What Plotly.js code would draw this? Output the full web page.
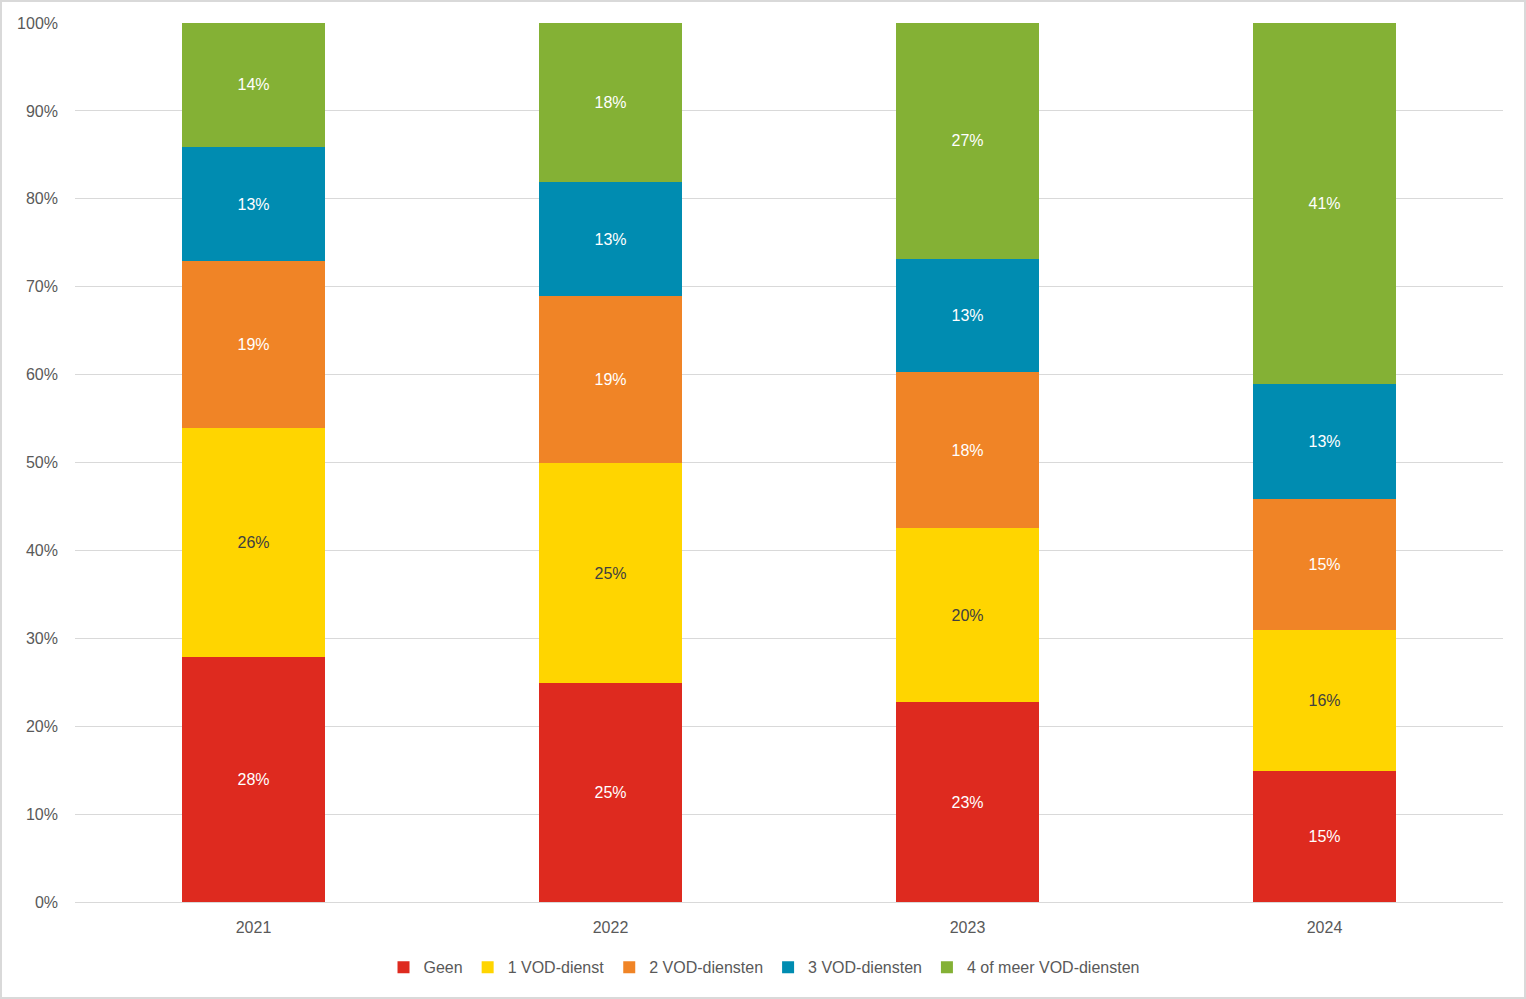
<!DOCTYPE html>
<html>
<head>
<meta charset="utf-8">
<script src="https://cdn.plot.ly/plotly-3.0.1.min.js"></script>
<style>
html,body{margin:0;padding:0;background:#fff;}
#chart{position:absolute;left:0;top:0;width:1526px;height:999px;}
#frame{position:absolute;left:0;top:0;width:1526px;height:999px;box-sizing:border-box;border:2px solid #d9d9d9;pointer-events:none;}
</style>
</head>
<body>
<div id="chart"></div>
<div id="frame"></div>
<script>
const years = ['2021', '2022', '2023', '2024'];
const seriesNames = ['Geen', '1 VOD-dienst', '2 VOD-diensten', '3 VOD-diensten', '4 of meer VOD-diensten'];
const geen = [27.9, 24.9, 22.7, 14.9];
const vod1 = [26.0, 25.0, 19.8, 16.0];
const vod2 = [19.0, 19.0, 17.8, 15.0];
const vod3 = [13.0, 13.0, 12.9, 13.0];
const vod4 = [14.1, 18.1, 26.8, 41.1];
const yTicks = [0, 10, 20, 30, 40, 50, 60, 70, 80, 90, 100];
const yTickLabels = ['0%', '10%', '20%', '30%', '40%', '50%', '60%', '70%', '80%', '90%', '100%'];

const colors = ['#DE2A1F', '#FFD500', '#F08426', '#008CB1', '#84B135'];
const labelColors = ['#ffffff', '#404040', '#ffffff', '#ffffff', '#ffffff'];
const values = [geen, vod1, vod2, vod3, vod4];

const traces = values.map((v, i) => ({
  type: 'bar',
  name: seriesNames[i],
  x: years,
  y: v,
  marker: {color: colors[i], line: {width: 0}},
  text: v.map(d => Math.round(d) + '%'),
  textposition: 'inside',
  insidetextanchor: 'middle',
  textangle: 0,
  textfont: {family: 'Liberation Sans, Arial, sans-serif', size: 16, color: labelColors[i]},
  hoverinfo: 'skip'
}));

const layout = {
  width: 1526,
  height: 999,
  barmode: 'stack',
  bargap: 0.6,
  paper_bgcolor: '#ffffff',
  plot_bgcolor: '#ffffff',
  margin: {l: 75, r: 23, t: 23, b: 97},
  font: {family: 'Liberation Sans, Arial, sans-serif', size: 16, color: '#595959'},
  showlegend: true,
  legend: {
    orientation: 'h',
    x: 0.4825, xanchor: 'center',
    y: -0.055, yanchor: 'top',
    font: {size: 16, color: '#595959'},
    traceorder: 'normal',
    itemwidth: 30,
    itemclick: false
  },
  xaxis: {
    type: 'category',
    showgrid: false,
    showline: true,
    linecolor: '#d9d9d9',
    linewidth: 1,
    ticks: '',
    ticklabelstandoff: 11,
    tickfont: {size: 16, color: '#595959'},
    fixedrange: true
  },
  yaxis: {
    range: [0, 100],
    tickvals: yTicks,
    ticktext: yTickLabels,
    showgrid: true,
    gridcolor: '#d9d9d9',
    gridwidth: 1,
    zeroline: false,
    showline: false,
    ticks: '',
    ticklabelstandoff: 16,
    tickfont: {size: 16, color: '#595959'},
    fixedrange: true
  }
};

Plotly.newPlot('chart', traces, layout, {displayModeBar: false, staticPlot: true});
</script>
</body>
</html>
